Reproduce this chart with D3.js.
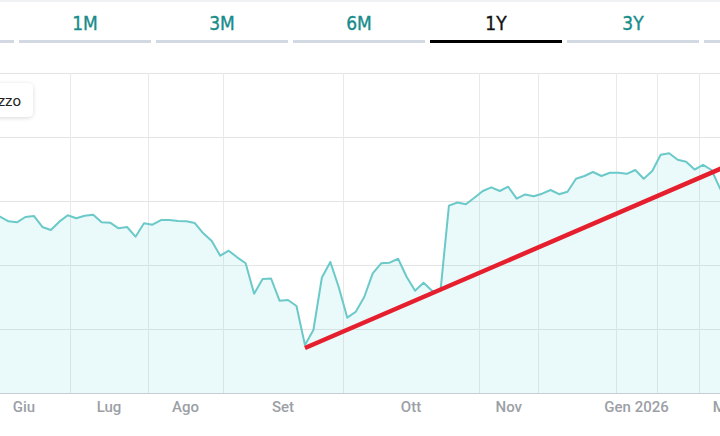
<!DOCTYPE html>
<html>
<head>
<meta charset="utf-8">
<script src="https://cdn.jsdelivr.net/npm/d3@7"></script>
<style>
  html, body { margin: 0; padding: 0; background: #fff; overflow: hidden; }
  svg { display: block; }
</style>
</head>
<body>
<div id="chart"></div>
<script>
let width = 720;
let height = 436;

// range tabs (first and last are cut off by the frame, their labels fall outside)
const tabLabels = ["", "1M", "3M", "6M", "1Y", "3Y", " "];
const activeTab = "1Y";

// price series, one value per session (index 0 sits just left of the frame)
const prices = [
  28.0, 27.55, 26.83, 26.67, 27.5, 27.66, 25.94, 25.47, 26.77, 27.77,
  27.3, 27.7, 27.86, 26.67, 26.61, 25.73, 25.94, 24.42, 26.52, 26.3,
  27.03, 27.03, 26.88, 26.83, 26.56, 24.95, 23.75, 21.45, 22.23, 21.2,
  20.27, 15.5, 17.81, 17.89, 14.42, 14.53, 13.59, 7.5, 9.84, 18.05,
  20.47, 16.48, 11.77, 12.7, 15.0, 18.7, 20.27, 20.36, 20.98, 18.17,
  15.98, 17.23, 15.98, 15.94, 29.27, 29.77, 29.5, 30.5, 31.56, 32.14,
  31.56, 32.23, 30.36, 31.02, 30.75, 31.14, 31.72, 31.06, 31.45, 33.48,
  33.91, 34.53, 33.91, 34.41, 34.42, 34.25, 34.84, 33.47, 34.69, 37.23,
  37.47, 36.45, 36.13, 34.91, 35.66, 34.84, 31.98, 29.5
];

// trend line: [session index, value]
const trend = [[37, 7.03], [87, 35.56]];

// month bands on the session axis (boundaries) and their labels ("" = hidden)
const monthEdges = [-1.63, 9.3, 18.44, 27.36, 41.46, 57.59, 64.55, 73.69, 78.6, 83.56, 89.87];
const monthLabels = ["Giu", "Lug", "Ago", "Set", "Ott", "Nov", "", "Gen 2026", "", "Mar"];

const yTicks = [0, 10, 20, 30, 40, 50];
const legendText = "Prezzo";

let svg = d3
  .select("#chart")
  .append("svg")
  .attr("width", width)
  .attr("height", height);

// top border
svg.append("rect").attr("x", 0).attr("y", 0).attr("width", width).attr("height", 2).attr("fill", "#f0f1f3");

// ---- tabs
let tabScale = d3.scaleBand().domain(tabLabels).range([-118, 836]).paddingInner(5 / 137);

let tabs = svg.append("g").selectAll("g").data(tabLabels).enter().append("g");
tabs
  .append("rect")
  .attr("x", (d) => tabScale(d))
  .attr("y", 40)
  .attr("width", tabScale.bandwidth())
  .attr("height", 3)
  .attr("fill", (d) => (d === activeTab ? "#000" : "#d3d9e2"));
tabs
  .filter((d) => d.trim() !== "")
  .append("text")
  .attr("x", (d) => tabScale(d) + tabScale.bandwidth() / 2)
  .attr("y", 30)
  .attr("text-anchor", "middle")
  .style("font-family", "'Liberation Sans Narrow', 'DejaVu Sans Condensed', sans-serif")
  .style("font-size", "19px")
  .attr("fill", (d) => (d === activeTab ? "#111" : "#178c8a"))
  .attr("stroke", (d) => (d === activeTab ? "#111" : "#178c8a"))
  .attr("stroke-width", 0.35)
  .text((d) => d);

// ---- chart scales
let x = d3.scaleLinear().domain([1, 86]).range([0, 720]);
let y = d3.scaleLinear().domain([0, 50]).range([393, 73]);

// horizontal grid
svg
  .append("g")
  .selectAll("line")
  .data(yTicks.slice(1))
  .enter()
  .append("line")
  .attr("x1", 0)
  .attr("x2", width)
  .attr("y1", (d) => y(d) + 0.5)
  .attr("y2", (d) => y(d) + 0.5)
  .attr("stroke", "#e4e4e4");

// vertical grid at month boundaries
svg
  .append("g")
  .selectAll("line")
  .data(monthEdges.slice(1, -1))
  .enter()
  .append("line")
  .attr("x1", (d) => Math.round(x(d)) + 0.5)
  .attr("x2", (d) => Math.round(x(d)) + 0.5)
  .attr("y1", y(50))
  .attr("y2", y(0))
  .attr("stroke", "#e9e9e9");

// area + line
const area = d3
  .area()
  .x((d, i) => x(i))
  .y0(y(0))
  .y1((d) => y(d));
const line = d3
  .line()
  .x((d, i) => x(i))
  .y((d) => y(d));

svg.append("path").datum(prices).attr("d", area).attr("fill", "#5fcfcf").attr("fill-opacity", 0.13);
svg
  .append("path")
  .datum(prices)
  .attr("d", line)
  .attr("fill", "none")
  .attr("stroke", "#6bc9c9")
  .attr("stroke-width", 2)
  .attr("stroke-linejoin", "round");

// axis baseline
svg
  .append("line")
  .attr("x1", 0)
  .attr("x2", width)
  .attr("y1", y(0) + 0.5)
  .attr("y2", y(0) + 0.5)
  .attr("stroke", "#c9cdd3");

// trend line
svg
  .append("line")
  .attr("x1", x(trend[0][0]))
  .attr("y1", y(trend[0][1]))
  .attr("x2", x(trend[1][0]))
  .attr("y2", y(trend[1][1]))
  .attr("stroke", "#e51f2e")
  .attr("stroke-width", 4.5);

// month labels centred in their bands
svg
  .append("g")
  .selectAll("text")
  .data(monthLabels)
  .enter()
  .append("text")
  .attr("x", (d, i) => (x(monthEdges[i]) + x(monthEdges[i + 1])) / 2)
  .attr("y", 412)
  .attr("text-anchor", "middle")
  .style("font-family", "Roboto, sans-serif")
  .style("font-size", "15px")
  .style("font-weight", 500)
  .attr("fill", "#9c9fa6")
  .text((d) => d);

// legend box (cut by the left edge)
const defs = svg.append("defs");
const shadow = defs.append("filter").attr("id", "shadow").attr("x", "-20%").attr("y", "-30%").attr("width", "140%").attr("height", "160%");
shadow.append("feDropShadow").attr("dx", 0).attr("dy", 1).attr("stdDeviation", 2).attr("flood-color", "#000").attr("flood-opacity", 0.15);

svg
  .append("rect")
  .attr("x", -70)
  .attr("y", 83)
  .attr("width", 103)
  .attr("height", 34)
  .attr("rx", 5)
  .attr("fill", "#fff")
  .attr("filter", "url(#shadow)");
svg
  .append("text")
  .attr("x", 21)
  .attr("y", 106)
  .attr("text-anchor", "end")
  .style("font-family", "Roboto, sans-serif")
  .style("font-size", "15px")
  .attr("fill", "#222")
  .text(legendText);
</script>
</body>
</html>
